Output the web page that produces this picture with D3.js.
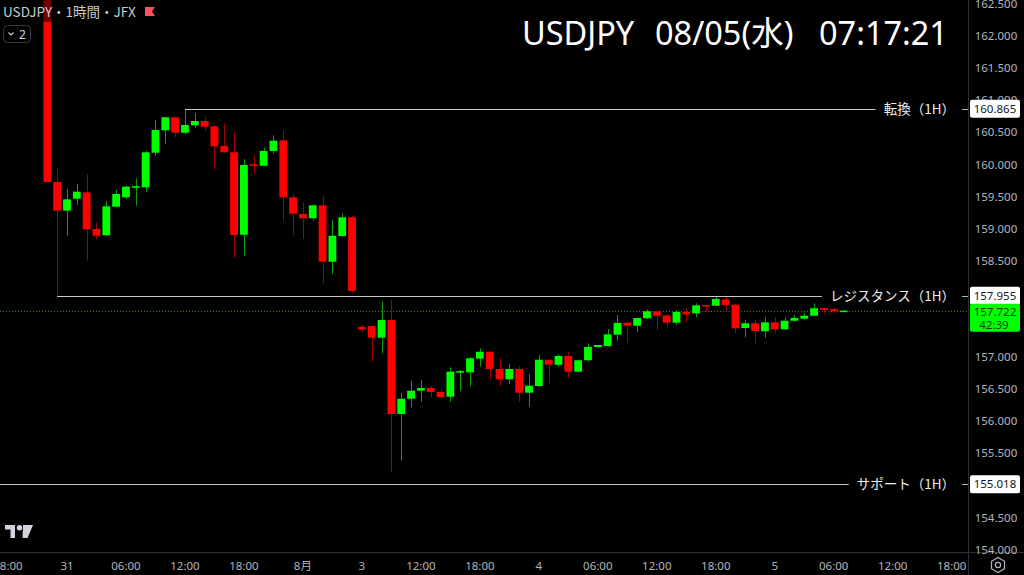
<!DOCTYPE html>
<html><head><meta charset="utf-8">
<script src="https://cdn.jsdelivr.net/npm/d3@7"></script>
<style>html,body{margin:0;padding:0;background:#000;overflow:hidden}</style>
</head><body>
<svg id="chart" width="1024" height="575"></svg>
<script>
// ---- data ----
const symbolTitle = "USDJPY・1時間・JFX";
const bigTitle = ["USDJPY", "08/05(水)", "07:17:21"];
const firstSlot = 4; // slot index of first candle (07/30 22:00)
const opens = [163.300,159.726,159.279,159.466,159.565,158.994,158.896,159.341,159.487,159.653,
  159.643,160.182,160.531,160.734,160.494,160.609,160.676,160.593,160.287,160.188,
  158.905,160.002,159.980,160.209,160.375,159.487,159.227,159.160,159.363,158.484,
  158.885,159.176,
  157.467,157.483,157.301,157.576,156.112,156.350,156.475,156.517,156.455,156.382,
  156.770,156.762,156.974,157.082,156.813,156.653,156.813,156.444,156.548,156.958,
  156.880,157.016,156.771,156.949,157.156,157.171,157.348,157.535,157.487,157.603,
  157.712,157.648,157.535,157.701,157.681,157.810,157.800,157.898,157.815,157.452,
  157.525,157.400,157.540,157.431,157.565,157.597,157.643,157.759,157.743,157.712];
const highs = [163.500,159.939,159.617,159.695,159.846,159.092,159.430,159.601,159.664,159.783,
  160.213,160.692,160.740,160.740,160.865,160.796,160.743,160.600,160.640,160.500,
  160.084,160.136,160.260,160.453,160.525,159.544,159.414,159.370,159.508,159.134,
  159.232,159.196,
  157.498,157.490,157.861,157.888,156.444,156.631,156.642,156.548,156.497,156.839,
  156.798,157.000,157.135,157.090,156.984,156.896,156.855,156.735,157.031,156.960,
  157.042,157.073,156.960,157.213,157.190,157.436,157.654,157.540,157.610,157.743,
  157.720,157.670,157.732,157.759,157.836,157.812,157.950,157.950,157.820,157.576,
  157.576,157.618,157.618,157.618,157.654,157.680,157.836,157.770,157.770,157.735];
const lows = [159.726,157.955,158.889,159.368,158.500,158.833,158.889,159.332,159.466,159.357,
  159.575,160.135,160.322,160.427,160.474,160.567,160.525,159.924,160.188,158.547,
  158.578,159.861,159.975,160.167,159.123,158.896,158.838,159.123,158.148,158.293,
  158.864,158.002,
  157.385,156.927,157.058,155.213,155.385,156.217,156.304,156.372,156.361,156.304,
  156.475,156.548,156.849,156.653,156.548,156.579,156.304,156.226,156.540,156.590,
  156.849,156.673,156.765,156.930,157.150,157.160,157.254,157.223,157.389,157.592,
  157.421,157.472,157.498,157.550,157.618,157.712,157.795,157.732,157.369,157.307,
  157.213,157.301,157.369,157.420,157.556,157.590,157.640,157.680,157.690,157.700];
const closes = [159.726,159.279,159.456,159.575,158.989,158.889,159.347,159.539,159.653,159.660,
  160.188,160.536,160.734,160.494,160.614,160.676,160.587,160.282,160.188,158.900,
  159.991,159.995,160.209,160.369,159.487,159.232,159.160,159.363,158.484,158.889,
  159.176,158.028,
  157.431,157.301,157.576,156.112,156.350,156.475,156.517,156.455,156.377,156.771,
  156.780,156.980,157.082,156.813,156.653,156.813,156.444,156.553,156.958,156.880,
  157.016,156.771,156.949,157.156,157.187,157.353,157.530,157.487,157.607,157.712,
  157.643,157.535,157.701,157.665,157.805,157.800,157.903,157.810,157.447,157.525,
  157.405,157.540,157.431,157.565,157.607,157.643,157.759,157.732,157.712,157.722];
const timeTickSlots  = [0,6,12,18,24,30,36,42,48,54,60,66,72,78,84,90,96];
const timeTickLabels = ["18:00","31","06:00","12:00","18:00","8月","3","12:00","18:00","4","06:00","12:00","18:00","5","06:00","12:00","18:00"];
const priceTicks = [154.0,154.5,155.0,155.5,156.0,156.5,157.0,157.5,158.0,158.5,159.0,159.5,160.0,160.5,161.0,161.5,162.0,162.5];
const levelNames  = ["転換（1H）","レジスタンス（1H）","サポート（1H）"];
const levelPrices = [160.865, 157.955, 155.018];
const levelStartSlots = [18, 5, -1];
const lastPrice = 157.722;
const countdown = "42:39";

// ---- layout ----
const W = 1024, H = 575, plotR = 968, plotB = 552;
const svg = d3.select("#chart");
svg.append("rect").attr("width", W).attr("height", H).attr("fill", "#000");

const x = d3.scaleLinear().domain([0, 96]).range([8, 951.7]);
const y = d3.scaleLinear().domain([154, 162.5]).range([549.6, 3.9]);

svg.append("defs").append("clipPath").attr("id", "plot")
  .append("rect").attr("x", 0).attr("y", 0).attr("width", plotR).attr("height", plotB);

const plot = svg.append("g").attr("clip-path", "url(#plot)");

// current price dotted line
plot.append("line").attr("x1", 0).attr("x2", plotR)
  .attr("y1", Math.round(y(lastPrice)) + 0.5).attr("y2", Math.round(y(lastPrice)) + 0.5)
  .attr("stroke", "#1f8a1f").attr("stroke-width", 1).attr("stroke-dasharray", "1,2");

// candles
const candles = opens.map((o, i) => ({slot: firstSlot + i, o, h: highs[i], l: lows[i], c: closes[i]}));
const bw = 7.8;
const cg = plot.append("g");
candles.forEach(d => {
  const up = d.c >= d.o;
  const cx = x(d.slot);
  const wx = Math.round(cx) + 0.5;
  cg.append("line").attr("x1", wx).attr("x2", wx)
    .attr("y1", y(d.h)).attr("y2", y(d.l))
    .attr("stroke", up ? "#0a9e0a" : "#a00000").attr("stroke-width", 1);
  const top = y(Math.max(d.o, d.c)), bot = y(Math.min(d.o, d.c));
  cg.append("rect").attr("x", cx - bw / 2).attr("width", bw)
    .attr("y", top).attr("height", Math.max(1.5, bot - top))
    .attr("fill", up ? "#00ff00" : "#ff0000");
});

// level lines with labels
const labelFont = "'Noto Sans CJK JP','Noto Sans',sans-serif";
levelPrices.forEach((p, i) => {
  const yy = Math.round(y(p)) + 0.5;
  const t = plot.append("text").attr("x", 955).attr("y", yy).attr("dy", "0.35em")
    .attr("text-anchor", "end").attr("fill", "#ececec")
    .style("font-family", labelFont).style("font-size", "13.5px").text(levelNames[i]);
  const tl = t.node().getComputedTextLength();
  plot.append("line").attr("x1", x(levelStartSlots[i])).attr("x2", 955 - tl - 8)
    .attr("y1", yy).attr("y2", yy).attr("stroke", "#c8c8c8").attr("stroke-width", 1);
});

// separators
svg.append("line").attr("x1", plotR + 0.5).attr("x2", plotR + 0.5).attr("y1", 0).attr("y2", H)
  .attr("stroke", "#2a2e39");
svg.append("line").attr("x1", 0).attr("x2", W).attr("y1", plotB + 0.5).attr("y2", plotB + 0.5)
  .attr("stroke", "#2a2e39");

// price axis ticks (skip the ones fully hidden behind a price box)
const axisFont = "'Noto Sans','DejaVu Sans',sans-serif";
const pa = svg.append("g");
const boxSpans = levelPrices.map(p => [y(p) - 9, y(p) + 9]).concat([[y(lastPrice) - 7, y(lastPrice) + 21]]);
priceTicks.forEach(p => {
  const yy = y(p);
  const hidden = boxSpans.some(([a, b]) => yy - 4 >= a && yy + 4 <= b);
  if (hidden) return;
  pa.append("text").attr("x", 996).attr("y", yy).attr("dy", "0.36em")
    .attr("text-anchor", "middle").attr("fill", "#b2b5be")
    .style("font-family", axisFont).style("font-size", "11.5px").text(d3.format(".3f")(p));
});

// price level boxes
levelPrices.forEach(p => {
  const yy = y(p);
  pa.append("line").attr("x1", 962).attr("x2", 968).attr("y1", Math.round(yy) + 0.5).attr("y2", Math.round(yy) + 0.5)
    .attr("stroke", "#b2b5be");
  pa.append("rect").attr("x", 970).attr("y", yy - 9).attr("width", 50).attr("height", 18)
    .attr("rx", 2).attr("fill", "#ffffff");
  pa.append("text").attr("x", 995).attr("y", yy).attr("dy", "0.36em").attr("text-anchor", "middle")
    .attr("fill", "#131722").style("font-family", axisFont).style("font-size", "11.5px")
    .text(d3.format(".3f")(p));
});
// last price box
{
  const yy = y(lastPrice);
  pa.append("rect").attr("x", 970).attr("y", yy - 7).attr("width", 50).attr("height", 28)
    .attr("rx", 2).attr("fill", "#00ff00");
  pa.append("text").attr("x", 995).attr("y", yy + 1).attr("dy", "0.36em").attr("text-anchor", "middle")
    .attr("fill", "#0c3a0c").style("font-family", axisFont).style("font-size", "11.5px")
    .text(d3.format(".3f")(lastPrice));
  pa.append("text").attr("x", 994).attr("y", yy + 14).attr("dy", "0.36em").attr("text-anchor", "middle")
    .attr("fill", "#0c3a0c").style("font-family", axisFont).style("font-size", "11.5px")
    .text(countdown);
}

// time axis
const ta = svg.append("g");
timeTickSlots.forEach((s, i) => {
  ta.append("text").attr("x", x(s)).attr("y", 566).attr("dy", "0.36em")
    .attr("text-anchor", "middle").attr("fill", "#b2b5be")
    .style("font-family", "'Noto Sans','Noto Sans CJK JP',sans-serif").style("font-size", "11.5px")
    .text(timeTickLabels[i]);
});

// settings icon
{
  const cx = 998, cy = 565, r = 7.5;
  const pts = d3.range(6).map(k => {
    const a = Math.PI / 3 * k + Math.PI / 6;
    return [cx + r * Math.cos(a), cy + r * Math.sin(a)];
  });
  svg.append("polygon").attr("points", pts.map(p => p.join(",")).join(" "))
    .attr("fill", "none").attr("stroke", "#b2b5be").attr("stroke-width", 1.2);
  svg.append("circle").attr("cx", cx).attr("cy", cy).attr("r", 2.6)
    .attr("fill", "none").attr("stroke", "#b2b5be").attr("stroke-width", 1.2);
}

// header
svg.append("rect").attr("x", 0).attr("y", 0).attr("width", 140).attr("height", 22)
  .attr("fill", "#000").attr("opacity", 0.55);
svg.append("text").attr("x", 3).attr("y", 17).attr("fill", "#c8cad0")
  .style("font-family", "'Noto Sans CJK JP','Noto Sans',sans-serif").style("font-size", "13.5px")
  .text(symbolTitle);
svg.append("path").attr("d", "M145,7 H155 L152,11.5 L155,16 H145 Z").attr("fill", "#f7525f");
svg.append("rect").attr("x", 3.5).attr("y", 25.5).attr("width", 27).attr("height", 17).attr("rx", 4)
  .attr("fill", "#000").attr("stroke", "#363a45");
svg.append("path").attr("d", "M8.5,32.5 L11,35 L13.5,32.5").attr("fill", "none")
  .attr("stroke", "#c8cad0").attr("stroke-width", 1.2);
svg.append("text").attr("x", 19).attr("y", 38.5).attr("fill", "#d1d4dc")
  .style("font-family", axisFont).style("font-size", "12px").text("2");

// big title
const titleX = [522, 655, 819];
bigTitle.forEach((t, i) => {
  svg.append("text").attr("x", titleX[i]).attr("y", 44.5).attr("fill", "#ffffff")
    .style("font-family", "'Noto Sans','Noto Sans CJK JP',sans-serif").style("font-size", "32.5px")
    .text(t);
});

// TradingView logo
const logo = svg.append("g").attr("fill", "#d1d4dc");
logo.append("path").attr("d", "M5,525 H15 V538 H10.5 V529.5 H5 Z");
logo.append("circle").attr("cx", 19.5).attr("cy", 527.7).attr("r", 2.7);
logo.append("path").attr("d", "M23,525 H33 L27.5,538 H22.5 Z");
</script>
</body></html>
